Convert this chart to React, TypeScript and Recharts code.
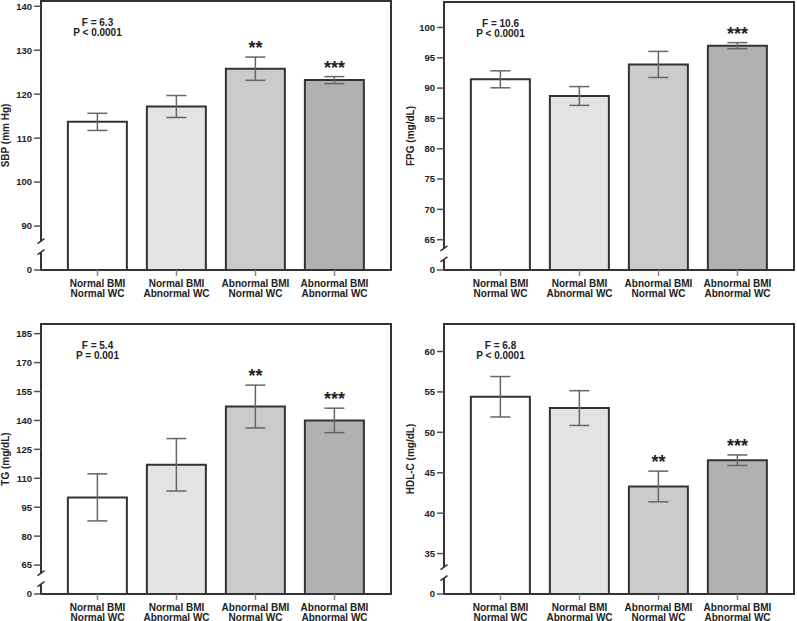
import { BarChart, Bar, Cell, XAxis, YAxis, ErrorBar, ReferenceArea, ReferenceDot } from "recharts";

const groups = [
  "Normal BMI|Normal WC",
  "Normal BMI|Abnormal WC",
  "Abnormal BMI|Normal WC",
  "Abnormal BMI|Abnormal WC",
];
const fills = ["#ffffff", "#e3e3e3", "#cbcbcb", "#b1b1b1"];

const sbpMeans = [113.7, 117.2, 125.8, 123.2];
const sbpErrors = [1.95, 2.5, 2.65, 0.8];
const sbpMarks = ["", "", "**", "***"];
const sbpTicks = [80, 90, 100, 110, 120, 130, 140];

const fpgMeans = [91.45, 88.7, 93.9, 97.0];
const fpgErrors = [1.4, 1.55, 2.15, 0.5];
const fpgMarks = ["", "", "", "***"];
const fpgTicks = [60, 65, 70, 75, 80, 85, 90, 95, 100];

const tgMeans = [100.1, 117.0, 147.2, 140.0];
const tgErrors = [12.2, 13.6, 11.1, 6.35];
const tgMarks = ["", "", "**", "***"];
const tgTicks = [50, 65, 80, 95, 110, 125, 140, 155, 170, 185];

const hdlMeans = [54.4, 53.0, 43.3, 46.55];
const hdlErrors = [2.5, 2.15, 1.9, 0.65];
const hdlMarks = ["", "", "**", "***"];
const hdlTicks = [30, 35, 40, 45, 50, 55, 60];

const FONT = '"Liberation Sans", Arial, Helvetica, sans-serif';
const INK = "#222";
const PAD = 17;

function GroupTick(props: any) {
  const { x, y, payload } = props;
  const [a, b] = String(payload.value).split("|");
  return (
    <text x={x} y={y} textAnchor="middle" fontSize={10} fontWeight="bold" fill={INK} fontFamily={FONT}>
      <tspan x={x} dy={9}>{a}</tspan>
      <tspan x={x} dy={9.5}>{b}</tspan>
    </text>
  );
}

function AxisTitle(props: any) {
  const { viewBox, text, dx } = props;
  const cx = viewBox.x + dx;
  const cy = viewBox.y + viewBox.height / 2;
  return (
    <text
      x={cx}
      y={cy}
      transform={`rotate(-90, ${cx}, ${cy})`}
      textAnchor="middle"
      dominantBaseline="central"
      fontSize={10}
      fontWeight="bold"
      fill={INK}
      fontFamily={FONT}
    >
      {text}
    </text>
  );
}

interface PanelProps {
  title: string;
  stat: string[];
  means: number[];
  errors: number[];
  marks: string[];
  ticks: number[];
  max: number;
  left: number;
  top: number;
  width: number;
  height: number;
  margin: { top: number; right: number; bottom: number; left: number };
  axisWidth: number;
  xHeight: number;
  titleX: number;
}

function Panel(p: PanelProps) {
  const base = p.ticks[0];
  const step = p.ticks[1] - p.ticks[0];
  const data = groups.map((g, i) => ({ group: g, mean: p.means[i], err: p.errors[i] }));

  // box around the plot, with the axis break near the bottom
  const frame = (props: any) => {
    const { x, y, width, height } = props;
    const x0 = x - PAD;
    const x1 = x + width + PAD;
    const by = y + height - ((step * 0.53) / (p.max - base)) * height;
    const g = 5.5;
    return (
      <g>
        <path
          d={`M${x0},${by - g} V${y} H${x1} V${y + height} H${x0} V${by + g}`}
          fill="none"
          stroke="#333"
          strokeWidth={2}
        />
        <line x1={x0 - 3.5} y1={by - g + 2.5} x2={x0 + 3.5} y2={by - g - 2.5} stroke="#333" strokeWidth={1.5} />
        <line x1={x0 - 3.5} y1={by + g + 2.5} x2={x0 + 3.5} y2={by + g - 2.5} stroke="#333" strokeWidth={1.5} />
      </g>
    );
  };

  return (
    <div style={{ position: "absolute", left: p.left, top: p.top }}>
      <BarChart width={p.width} height={p.height} data={data} margin={p.margin} barCategoryGap="12.5%">
        <XAxis
          dataKey="group"
          type="category"
          interval={0}
          padding={{ left: PAD, right: PAD }}
          axisLine={false}
          tickLine={{ stroke: "#888", strokeWidth: 1.5 }}
          tickSize={6}
          tick={<GroupTick />}
          height={p.xHeight}
        />
        <YAxis
          type="number"
          domain={[base, p.max]}
          ticks={p.ticks}
          interval={0}
          allowDataOverflow
          width={p.axisWidth}
          axisLine={false}
          tickLine={{ stroke: "#555", strokeWidth: 1.5 }}
          tickSize={7}
          tickMargin={2}
          tickFormatter={(v: number) => (v === base ? "0" : String(v))}
          tick={{ fill: INK, fontSize: 9.5, fontWeight: "bold", fontFamily: FONT }}
          label={<AxisTitle text={p.title} dx={p.titleX} />}
        />
        <ReferenceArea y1={base} y2={p.max} ifOverflow="visible" shape={frame} />
        <Bar dataKey="mean" stroke="#333" strokeWidth={2} isAnimationActive={false}>
          {data.map((d, i) => (
            <Cell key={d.group} fill={fills[i]} />
          ))}
          <ErrorBar dataKey="err" width={10} stroke="#666" strokeWidth={1.5} isAnimationActive={false} />
        </Bar>
        {p.marks.map((m, i) =>
          m ? (
            <ReferenceDot
              key={i}
              x={groups[i]}
              y={p.means[i] + p.errors[i]}
              r={0}
              fill="none"
              stroke="none"
              ifOverflow="visible"
              label={(lp: any) => (
                <text
                  x={lp.viewBox.x}
                  y={lp.viewBox.y - 3}
                  textAnchor="middle"
                  fontSize={18}
                  fontWeight="bold"
                  fill={INK}
                  fontFamily={FONT}
                >
                  {m}
                </text>
              )}
            />
          ) : null
        )}
        <ReferenceDot
          x={groups[0]}
          y={p.max}
          r={0}
          fill="none"
          stroke="none"
          ifOverflow="visible"
          label={(lp: any) => (
            <text textAnchor="middle" fontSize={10} fontWeight="bold" fill={INK} fontFamily={FONT}>
              <tspan x={lp.viewBox.x} y={lp.viewBox.y + 24.5}>{p.stat[0]}</tspan>
              <tspan x={lp.viewBox.x} y={lp.viewBox.y + 34.5}>{p.stat[1]}</tspan>
            </text>
          )}
        />
      </BarChart>
    </div>
  );
}

export default function App() {
  return (
    <div style={{ position: "absolute", left: 0, top: 0, width: 797, height: 621, background: "#fff" }}>
      <Panel
        title="SBP (mm Hg)"
        stat={["F = 6.3", "P < 0.0001"]}
        means={sbpMeans}
        errors={sbpErrors}
        marks={sbpMarks}
        ticks={sbpTicks}
        max={141.2}
        left={0}
        top={0}
        width={400}
        height={305}
        margin={{ top: 1, right: 9, bottom: 5, left: 0 }}
        axisWidth={41}
        xHeight={30}
        titleX={5.5}
      />
      <Panel
        title="FPG (mg/dL)"
        stat={["F = 10.6", "P < 0.0001"]}
        means={fpgMeans}
        errors={fpgErrors}
        marks={fpgMarks}
        ticks={fpgTicks}
        max={104.2}
        left={400}
        top={0}
        width={397}
        height={305}
        margin={{ top: 2, right: 3, bottom: 5, left: 0 }}
        axisWidth={44}
        xHeight={30}
        titleX={10}
      />
      <Panel
        title="TG (mg/dL)"
        stat={["F = 5.4", "P = 0.001"]}
        means={tgMeans}
        errors={tgErrors}
        marks={tgMarks}
        ticks={tgTicks}
        max={190}
        left={0}
        top={310}
        width={400}
        height={311}
        margin={{ top: 14, right: 9, bottom: 0, left: 0 }}
        axisWidth={41}
        xHeight={27}
        titleX={5.5}
      />
      <Panel
        title="HDL-C (mg/dL)"
        stat={["F = 6.8", "P < 0.0001"]}
        means={hdlMeans}
        errors={hdlErrors}
        marks={hdlMarks}
        ticks={hdlTicks}
        max={63.4}
        left={400}
        top={310}
        width={397}
        height={311}
        margin={{ top: 14, right: 3, bottom: 0, left: 0 }}
        axisWidth={44}
        xHeight={27}
        titleX={10}
      />
    </div>
  );
}
